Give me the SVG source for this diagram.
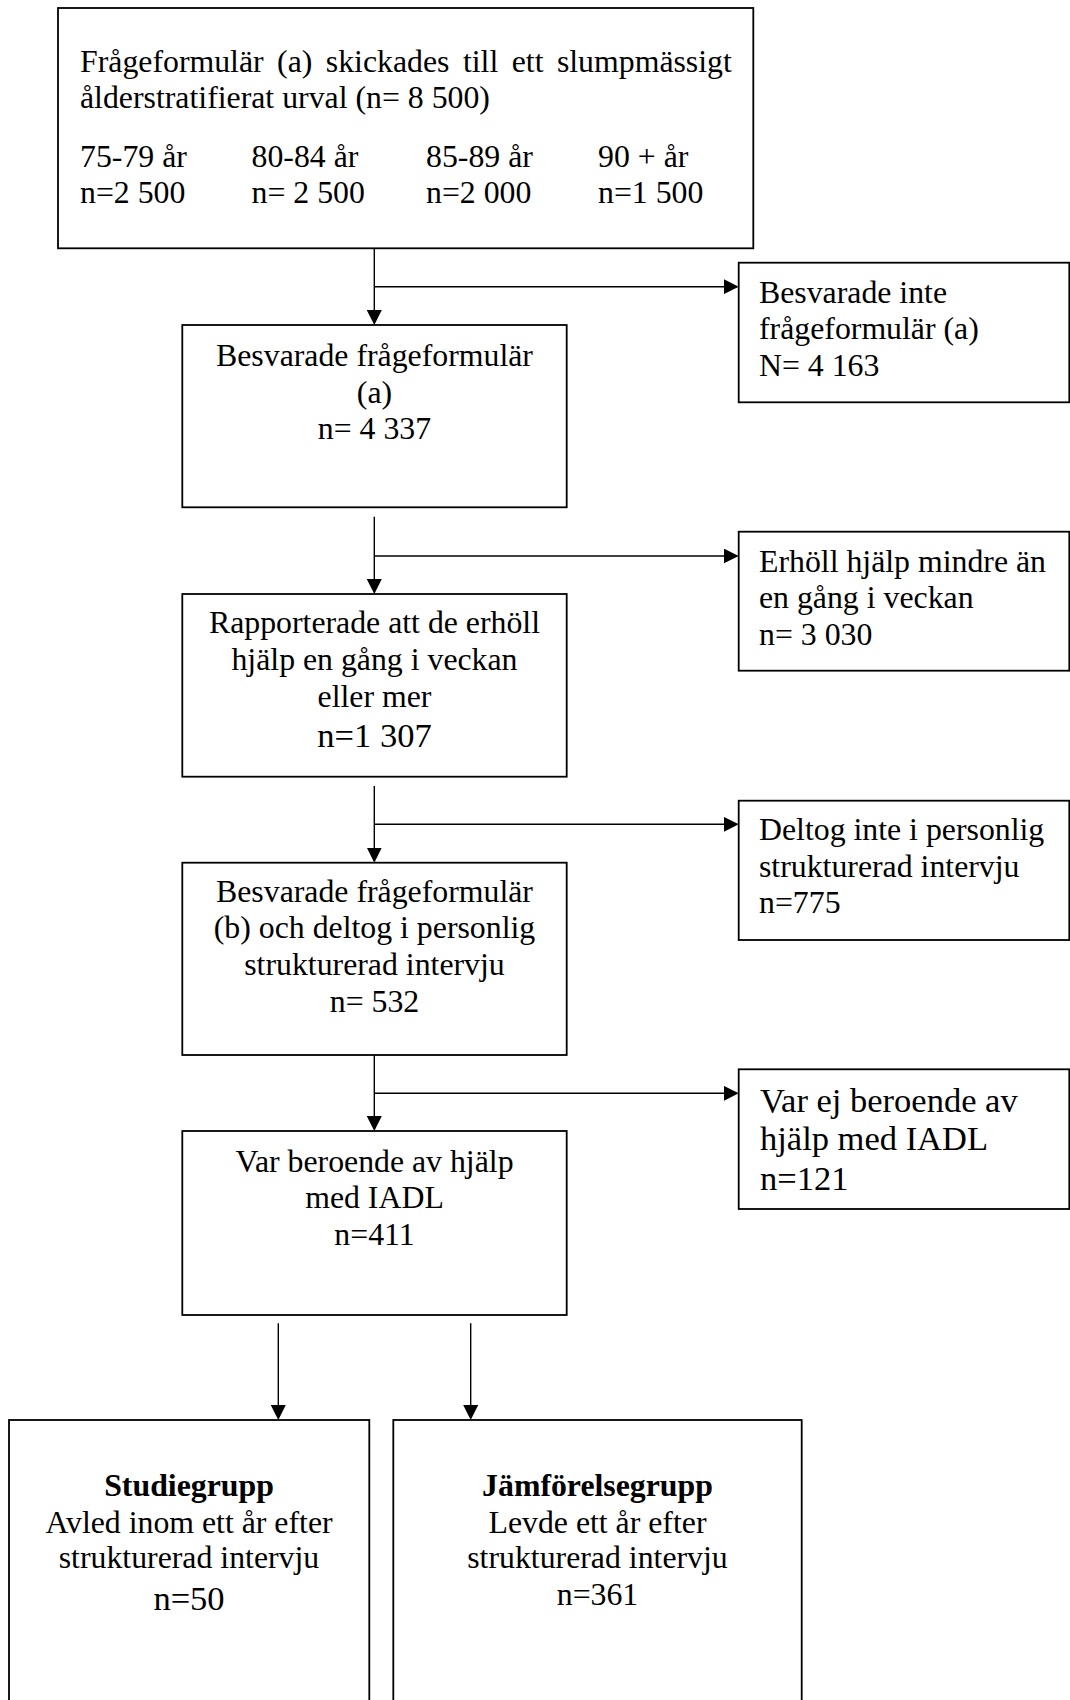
<svg xmlns="http://www.w3.org/2000/svg" width="1070" height="1700" viewBox="0 0 1070 1700">
<defs>
<style>
.box{fill:#fff;stroke:#000;stroke-width:1.8}
.t{font-family:"Liberation Serif","Times New Roman",serif;font-size:31.8px;fill:#000}
.c{text-anchor:middle}
.big{font-size:34.5px}
.b{font-weight:bold}
.ln{fill:none;stroke:#000;stroke-width:1.4}
</style>
<marker id="ah" markerUnits="userSpaceOnUse" viewBox="0 0 15 15" markerWidth="15" markerHeight="15" refX="13" refY="7.5" orient="auto"><path d="M0,0L15,7.5L0,15Z" fill="#000"/></marker>
</defs>
<rect width="1070" height="1700" fill="#fff"/>

<g id="connectors">
<path class="ln" d="M374.3,248.3V323" marker-end="url(#ah)"/>
<path class="ln" d="M374.3,286.7H736.7" marker-end="url(#ah)"/>
<path class="ln" d="M374.3,516.7V592" marker-end="url(#ah)"/>
<path class="ln" d="M374.3,556H736.7" marker-end="url(#ah)"/>
<path class="ln" d="M374.3,786V860.7" marker-end="url(#ah)"/>
<path class="ln" d="M374.3,824.3H736.7" marker-end="url(#ah)"/>
<path class="ln" d="M374.3,1055V1129" marker-end="url(#ah)"/>
<path class="ln" d="M374.3,1093.3H736.7" marker-end="url(#ah)"/>
<path class="ln" d="M278.3,1323.3V1418" marker-end="url(#ah)"/>
<path class="ln" d="M470.7,1323.3V1418" marker-end="url(#ah)"/>
</g>

<g id="n1">
<rect class="box" x="58" y="8" width="695.3" height="240.3"/>
<text class="t" x="80" y="71.5" word-spacing="5.5">Frågeformulär (a) skickades till ett slumpmässigt</text>
<text class="t" x="80" y="108">ålderstratifierat urval (n= 8 500)</text>
<text class="t" x="80" y="166.7">75-79 år</text>
<text class="t" x="251.5" y="166.7">80-84 år</text>
<text class="t" x="426" y="166.7">85-89 år</text>
<text class="t" x="598" y="166.7">90 + år</text>
<text class="t" x="80" y="203.3">n=2 500</text>
<text class="t" x="251.5" y="203.3">n= 2 500</text>
<text class="t" x="426" y="203.3">n=2 000</text>
<text class="t" x="598" y="203.3">n=1 500</text>
</g>

<g id="r1">
<rect class="box" x="738.7" y="262.7" width="330.6" height="139.6"/>
<text class="t" x="759" y="302.7">Besvarade inte</text>
<text class="t" x="759" y="339">frågeformulär (a)</text>
<text class="t" x="759" y="376">N= 4 163</text>
</g>

<g id="n2">
<rect class="box" x="182.3" y="325" width="384.4" height="182.3"/>
<text class="t c" x="374.5" y="365.7">Besvarade frågeformulär</text>
<text class="t c" x="374.5" y="403">(a)</text>
<text class="t c" x="374.5" y="439">n= 4 337</text>
</g>

<g id="r2">
<rect class="box" x="738.7" y="531.7" width="330.6" height="139"/>
<text class="t" x="759" y="571.7">Erhöll hjälp mindre än</text>
<text class="t" x="759" y="608.3">en gång i veckan</text>
<text class="t" x="759" y="645">n= 3 030</text>
</g>

<g id="n3">
<rect class="box" x="182.3" y="594" width="384.4" height="182.7"/>
<text class="t c" x="374.5" y="633.3">Rapporterade att de erhöll</text>
<text class="t c" x="374.5" y="670">hjälp en gång i veckan</text>
<text class="t c" x="374.5" y="706.7">eller mer</text>
<text class="t c big" x="374.5" y="746.7">n=1 307</text>
</g>

<g id="r3">
<rect class="box" x="738.7" y="800.7" width="330.6" height="139.3"/>
<text class="t" x="759" y="840">Deltog inte i personlig</text>
<text class="t" x="759" y="876.7">strukturerad intervju</text>
<text class="t" x="759" y="913.3">n=775</text>
</g>

<g id="n4">
<rect class="box" x="182.3" y="862.7" width="384.4" height="192.3"/>
<text class="t c" x="374.5" y="901.7">Besvarade frågeformulär</text>
<text class="t c" x="374.5" y="938.3">(b) och deltog i personlig</text>
<text class="t c" x="374.5" y="975">strukturerad intervju</text>
<text class="t c" x="374.5" y="1011.7">n= 532</text>
</g>

<g id="r4">
<rect class="box" x="738.7" y="1069.3" width="330.6" height="139.7"/>
<text class="t big" x="760" y="1111.7">Var ej beroende av</text>
<text class="t big" x="760" y="1150">hjälp med IADL</text>
<text class="t big" x="760" y="1189.7">n=121</text>
</g>

<g id="n5">
<rect class="box" x="182.3" y="1131" width="384.4" height="184"/>
<text class="t c" x="374.5" y="1171.7">Var beroende av hjälp</text>
<text class="t c" x="374.5" y="1208.3">med IADL</text>
<text class="t c" x="374.5" y="1245">n=411</text>
</g>

<g id="n6">
<rect class="box" x="9" y="1420" width="360.3" height="300"/>
<text class="t c b" x="189" y="1496">Studiegrupp</text>
<text class="t c" x="189" y="1532.7">Avled inom ett år efter</text>
<text class="t c" x="189" y="1568.3">strukturerad intervju</text>
<text class="t c big" x="189" y="1610">n=50</text>
</g>

<g id="n7">
<rect class="box" x="393.3" y="1420" width="408.4" height="300"/>
<text class="t c b" x="597.5" y="1496">Jämförelsegrupp</text>
<text class="t c" x="597.5" y="1532.7">Levde ett år efter</text>
<text class="t c" x="597.5" y="1568.3">strukturerad intervju</text>
<text class="t c" x="597.5" y="1605">n=361</text>
</g>
</svg>
